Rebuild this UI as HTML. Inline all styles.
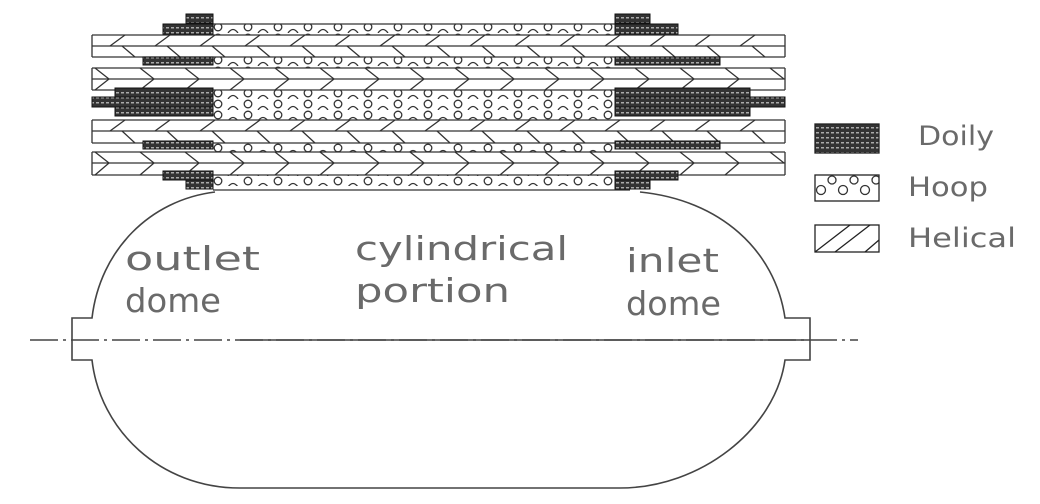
<!DOCTYPE html>
<html><head><meta charset="utf-8"><style>
html,body{margin:0;padding:0;background:#fff;width:1040px;height:504px;overflow:hidden}
text{font-family:"DejaVu Sans","Liberation Sans",sans-serif;fill:#6a6a6a;font-weight:normal}
</style></head><body>
<svg width="1040" height="504" viewBox="0 0 1040 504" xmlns="http://www.w3.org/2000/svg">
<defs>
<pattern id="hoop" x="0" y="0" width="30" height="11" patternUnits="userSpaceOnUse">
 <circle cx="8" cy="5" r="3.8" fill="none" stroke="#333" stroke-width="1.3"/>
 <path d="M18 11 Q23 4 28 11" fill="none" stroke="#333" stroke-width="1.3"/>
</pattern>
<pattern id="doily" x="0" y="0" width="5" height="5" patternUnits="userSpaceOnUse">
 <rect width="5" height="5" fill="#333"/>
 <rect x="1" y="2" width="3" height="1.5" fill="#aaa"/>
</pattern>
<pattern id="lhoop" x="815" y="175" width="22" height="26" patternUnits="userSpaceOnUse">
 <circle cx="6" cy="15" r="4.5" fill="none" stroke="#333" stroke-width="1.3"/>
 <circle cx="17" cy="5" r="4" fill="none" stroke="#333" stroke-width="1.3"/>
</pattern>
</defs>

<g stroke="#333" stroke-width="1.3" fill="none">
<rect x="213" y="24" width="402" height="11" fill="url(#hoop)" stroke="none"/>
<rect x="213" y="57" width="402" height="11" fill="url(#hoop)" stroke="none"/>
<rect x="213" y="90" width="402" height="30" fill="url(#hoop)" stroke="none"/>
<rect x="213" y="143" width="402" height="9" fill="url(#hoop)" stroke="none"/>
<rect x="213" y="175" width="402" height="11" fill="url(#hoop)" stroke="none"/>
<path d="M213 24H615 M92 35H785 M92 46H785 M92 57H785 M92 68H785 M92 79H785 M92 90H785 M92 120H785 M92 131H785 M92 143H785 M92 152H785 M92 163H785 M92 175H785 M213 190H630 M92 35V57 M785 35V57 M92 68V90 M785 68V90 M92 120V143 M785 120V143 M92 152V175 M785 152V175"/>
<path d="
M110 46l15-11 M155 46l15-11 M200 46l15-11 M245 46l15-11 M290 46l15-11 M335 46l15-11 M380 46l15-11 M425 46l15-11 M470 46l15-11 M515 46l15-11 M560 46l15-11 M605 46l15-11 M650 46l15-11 M695 46l15-11 M740 46l15-11
M122 46l13 11 M167 46l13 11 M212 46l13 11 M257 46l13 11 M302 46l13 11 M347 46l13 11 M392 46l13 11 M437 46l13 11 M482 46l13 11 M527 46l13 11 M572 46l13 11 M617 46l13 11 M662 46l13 11 M707 46l13 11 M752 46l13 11
M95 68l14 11 M140 68l14 11 M185 68l14 11 M230 68l14 11 M275 68l14 11 M320 68l14 11 M365 68l14 11 M410 68l14 11 M455 68l14 11 M500 68l14 11 M545 68l14 11 M590 68l14 11 M635 68l14 11 M680 68l14 11 M725 68l14 11 M770 68l14 11
M109 79l-14 11 M154 79l-14 11 M199 79l-14 11 M244 79l-14 11 M289 79l-14 11 M334 79l-14 11 M379 79l-14 11 M424 79l-14 11 M469 79l-14 11 M514 79l-14 11 M559 79l-14 11 M604 79l-14 11 M649 79l-14 11 M694 79l-14 11 M739 79l-14 11
M110 131l15-11 M155 131l15-11 M200 131l15-11 M245 131l15-11 M290 131l15-11 M335 131l15-11 M380 131l15-11 M425 131l15-11 M470 131l15-11 M515 131l15-11 M560 131l15-11 M605 131l15-11 M650 131l15-11 M695 131l15-11 M740 131l15-11
M122 131l13 12 M167 131l13 12 M212 131l13 12 M257 131l13 12 M302 131l13 12 M347 131l13 12 M392 131l13 12 M437 131l13 12 M482 131l13 12 M527 131l13 12 M572 131l13 12 M617 131l13 12 M662 131l13 12 M707 131l13 12 M752 131l13 12
M95 152l14 11 M140 152l14 11 M185 152l14 11 M230 152l14 11 M275 152l14 11 M320 152l14 11 M365 152l14 11 M410 152l14 11 M455 152l14 11 M500 152l14 11 M545 152l14 11 M590 152l14 11 M635 152l14 11 M680 152l14 11 M725 152l14 11 M770 152l14 11
M109 163l-14 12 M154 163l-14 12 M199 163l-14 12 M244 163l-14 12 M289 163l-14 12 M334 163l-14 12 M379 163l-14 12 M424 163l-14 12 M469 163l-14 12 M514 163l-14 12 M559 163l-14 12 M604 163l-14 12 M649 163l-14 12 M694 163l-14 12 M739 163l-14 12
"/>
</g>
<g fill="url(#doily)" stroke="#111" stroke-width="1">
<rect x="186" y="14" width="27" height="9"/>
<rect x="163" y="24" width="50" height="10"/>
<rect x="143" y="57" width="70" height="8"/>
<rect x="115" y="88" width="98" height="9"/>
<rect x="92" y="97" width="121" height="10"/>
<rect x="115" y="107" width="98" height="9"/>
<rect x="143" y="141" width="70" height="8"/>
<rect x="163" y="171" width="50" height="9"/>
<rect x="186" y="180" width="27" height="9"/>
<rect x="615" y="14" width="35" height="9"/>
<rect x="615" y="24" width="63" height="10"/>
<rect x="615" y="57" width="105" height="8"/>
<rect x="615" y="88" width="135" height="9"/>
<rect x="615" y="97" width="170" height="10"/>
<rect x="615" y="107" width="135" height="9"/>
<rect x="615" y="141" width="105" height="8"/>
<rect x="615" y="171" width="63" height="9"/>
<rect x="615" y="180" width="35" height="9"/>
</g>

<g stroke="#444" stroke-width="1.6" fill="none">
<path d="M215 192 C150 200 100 250 92 318 H72 V360 H92 C100 430 160 488 240 488 H620 C700 488 775 430 785 360 H810 V318 H785 C775 250 720 200 640 192"/>
<path d="M240 340 H810"/>
<path d="M30 340 H858" stroke-dasharray="28 5 3 5"/>
</g>

<text x="125" y="270" font-size="33" textLength="135" lengthAdjust="spacingAndGlyphs">outlet</text>
<text x="125" y="312" font-size="33" textLength="96" lengthAdjust="spacingAndGlyphs">dome</text>
<text x="355" y="260" font-size="33" textLength="213" lengthAdjust="spacingAndGlyphs">cylindrical</text>
<text x="355" y="302" font-size="33" textLength="155" lengthAdjust="spacingAndGlyphs">portion</text>
<text x="626" y="272" font-size="33" textLength="93" lengthAdjust="spacingAndGlyphs">inlet</text>
<text x="626" y="315" font-size="33" textLength="95" lengthAdjust="spacingAndGlyphs">dome</text>

<rect x="815" y="124" width="64" height="29" fill="url(#doily)" stroke="#222" stroke-width="1.3"/>
<rect x="815" y="175" width="64" height="26" fill="url(#lhoop)" stroke="#222" stroke-width="1.3"/>
<rect x="815" y="225" width="64" height="27" fill="none" stroke="#222" stroke-width="1.3"/>
<path d="M815 252 L850 225 M835 252 L870 225 M865 252 L879 240" stroke="#222" stroke-width="1.3"/>
<text x="918" y="145" font-size="27" textLength="76" lengthAdjust="spacingAndGlyphs">Doily</text>
<text x="908" y="196" font-size="27" textLength="80" lengthAdjust="spacingAndGlyphs">Hoop</text>
<text x="908" y="247" font-size="27" textLength="108" lengthAdjust="spacingAndGlyphs">Helical</text>
</svg>
</body></html>
